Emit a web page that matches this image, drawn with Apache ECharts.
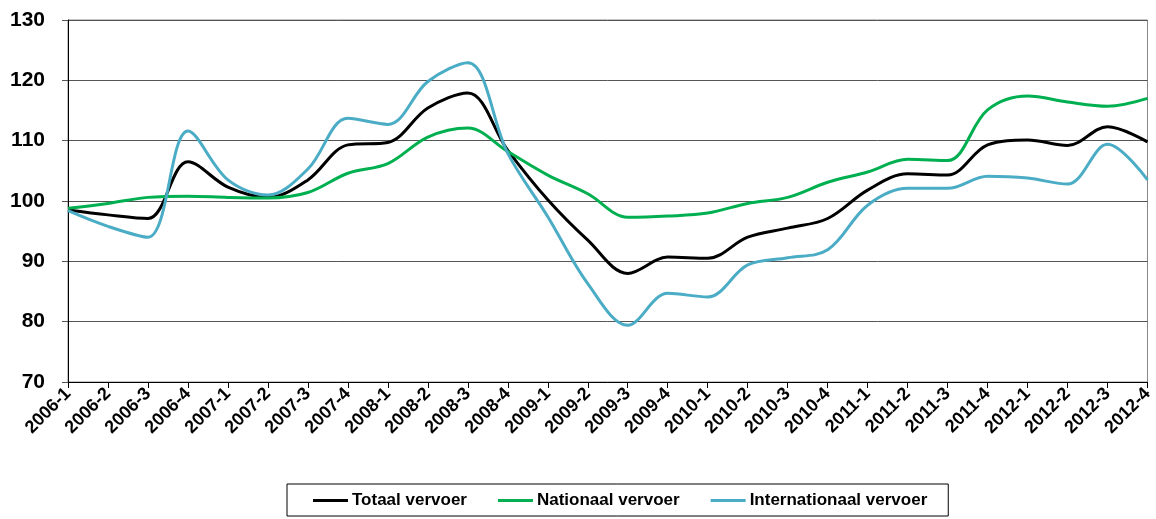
<!DOCTYPE html>
<html>
<head>
<meta charset="utf-8">
<title>Vervoer index</title>
<script src="https://cdn.jsdelivr.net/npm/echarts@6/dist/echarts.min.js"></script>
<style>
  html, body { margin: 0; padding: 0; background: #fff; }
  #chart { width: 1156px; height: 519px; }
</style>
</head>
<body>
<div id="chart"></div>
<script>
const quarters = [
  '2006-1', '2006-2', '2006-3', '2006-4', '2007-1', '2007-2', '2007-3', '2007-4',
  '2008-1', '2008-2', '2008-3', '2008-4', '2009-1', '2009-2', '2009-3', '2009-4',
  '2010-1', '2010-2', '2010-3', '2010-4', '2011-1', '2011-2', '2011-3', '2011-4',
  '2012-1', '2012-2', '2012-3', '2012-4'
]
const totaal = [
  98.5, 97.7, 97.1, 106.5, 102.3, 100.6, 103.5, 109.3,
  109.7, 115.4, 117.9, 108.4, 100.2, 93.5, 88.0, 90.7,
  90.5, 94.0, 95.5, 97.1, 101.8, 104.5, 104.3, 109.3,
  110.1, 109.2, 112.3, 109.8
]
const nationaal = [
  98.8, 99.6, 100.6, 100.8, 100.6, 100.5, 101.4, 104.6,
  106.2, 110.6, 112.1, 108.2, 104.3, 101.2, 97.3, 97.5,
  98.0, 99.6, 100.6, 103.1, 104.8, 106.9, 106.7, 115.1,
  117.4, 116.4, 115.7, 117.0
]
const internationaal = [
  98.4, 95.8, 94.0, 111.6, 103.5, 101.0, 105.3, 113.7,
  112.7, 119.8, 122.9, 107.9, 97.4, 86.3, 79.4, 84.7,
  84.1, 89.4, 90.6, 91.9, 99.3, 102.1, 102.1, 104.1,
  103.8, 102.8, 109.4, 103.5
]
const yTicks = [70, 80, 90, 100, 110, 120, 130]

const font = 'Liberation Sans, Arial, sans-serif'

const chart = echarts.init(document.getElementById('chart'))

const line = (name, data, color) => ({
  name: name,
  type: 'line',
  data: data,
  smooth: 0.35,
  symbol: 'none',
  lineStyle: { color: color, width: 3 },
  itemStyle: { color: color }
})

chart.setOption({
  animation: false,
  grid: {
    left: 68, right: 5, top: 20, bottom: 137,
    show: true, borderColor: '#888', borderWidth: 1
  },
  legend: {
    left: 287, top: 484,
    padding: [8, 21, 7, 26],
    borderColor: '#000', borderWidth: 1,
    itemWidth: 35, itemHeight: 3, itemGap: 31,
    icon: 'rect',
    textStyle: { fontFamily: font, fontWeight: 'bold', fontSize: 17, color: '#000', padding: [0, 0, 0, -1] },
    data: ['Totaal vervoer', 'Nationaal vervoer', 'Internationaal vervoer']
  },
  xAxis: {
    type: 'category',
    data: quarters,
    boundaryGap: false,
    axisLine: { lineStyle: { color: '#000', width: 1 } },
    axisTick: { show: true, length: 6, lineStyle: { color: '#000' } },
    axisLabel: {
      rotate: 45, margin: 9, interval: 0,
      fontFamily: font, fontWeight: 'bold', fontSize: 18, color: '#000'
    },
    splitLine: { show: false }
  },
  yAxis: {
    type: 'value',
    min: yTicks[0], max: yTicks[yTicks.length - 1], interval: 10,
    axisLine: { show: true, lineStyle: { color: '#000', width: 1 } },
    axisTick: { show: true, length: 6, lineStyle: { color: '#555' } },
    axisLabel: {
      margin: 23,
      fontFamily: font, fontWeight: 'bold', fontSize: 21, color: '#000'
    },
    splitLine: { lineStyle: { color: '#555', width: 1 } }
  },
  series: [
    line('Totaal vervoer', totaal, '#000000'),
    line('Nationaal vervoer', nationaal, '#00b050'),
    line('Internationaal vervoer', internationaal, '#4bacc6')
  ]
})
</script>
</body>
</html>
